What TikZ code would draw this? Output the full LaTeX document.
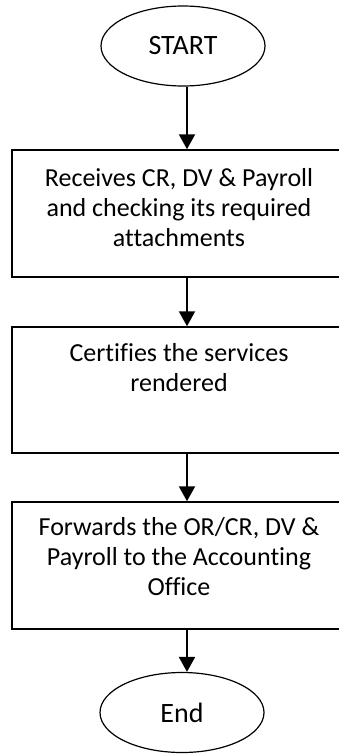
\documentclass[tikz,border=0pt]{standalone}
\usepackage{fontspec}
\setmainfont{Carlito}[Ligatures={NoCommon}]
\usetikzlibrary{arrows.meta,shapes.geometric}
\begin{document}
\begin{tikzpicture}[x=1pt,y=1pt,
  term/.style={draw, ellipse, line width=1.2pt, minimum width=164pt, minimum height=80pt, inner sep=0pt, font=\fontsize{28}{33}\selectfont},
  stepbox/.style={draw, line width=1.5pt, rectangle, minimum width=334pt, inner sep=0pt},
  lbl/.style={anchor=base, align=center, inner sep=0pt, font=\fontsize{26}{30}\selectfont},
  flow/.style={line width=2.2pt, -{Triangle[length=15pt,width=16pt]}}]
\useasboundingbox (0,0) rectangle (339,-755);
\clip (0,0) rectangle (339,-755);
\fill[white] (0,0) rectangle (339,-755);
\coordinate (ax) at (187,0);
\node[term] (start) at (183,-46) {START};
\node[stepbox, minimum height=127pt] (b1) at (179,-213.5) {};
\node[stepbox, minimum height=126pt] (b2) at (179,-390) {};
\node[stepbox, minimum height=127pt] (b3) at (179,-565.5) {};
\node[term] (end) at (182,-712.5) {End};
% anchor=base of a multi-line node is the baseline of its last line
\node[lbl] (t1) at ([yshift=-97pt]b1.north) {Receives CR, DV \& Payroll\\and checking its required\\attachments};
\node[lbl] (t2) at ([yshift=-65pt]b2.north) {Certifies the services\\rendered};
\node[lbl] (t3) at ([yshift=-94pt]b3.north) {Forwards the OR/CR, DV \&\\Payroll to the Accounting\\Office};
\draw[flow] (start.south -| ax) -- (b1.north -| ax);
\draw[flow] (b1.south -| ax) -- (b2.north -| ax);
\draw[flow] (b2.south -| ax) -- (b3.north -| ax);
\draw[flow] (b3.south -| ax) -- (end.north -| ax);
\end{tikzpicture}
\end{document}
